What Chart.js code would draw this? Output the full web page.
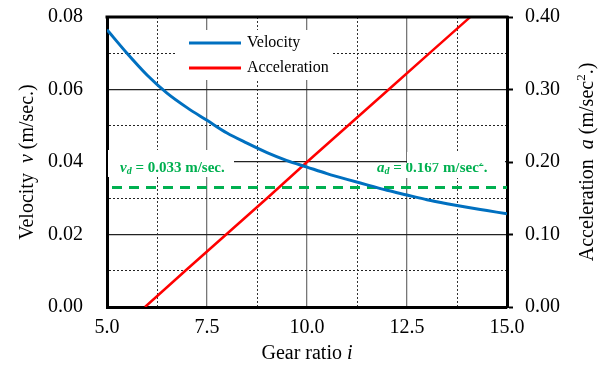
<!DOCTYPE html>
<html>
<head>
<meta charset="utf-8">
<script src="https://cdn.jsdelivr.net/npm/chart.js@4.4.1/dist/chart.umd.min.js"></script>
<style>
  html, body { margin: 0; padding: 0; background: #fff; }
  #wrap { width: 604px; height: 365px; }
</style>
</head>
<body>
<div id="wrap"><canvas id="gearChart" width="604" height="365"></canvas></div>
<script>
// ---- DATA ----
const gearRatios = [5.0, 5.5, 6.0, 6.5, 7.0, 7.5, 8.0, 8.5, 9.0, 9.5, 10.0,
                    10.5, 11.0, 11.5, 12.0, 12.5, 13.0, 13.5, 14.0, 14.5, 15.0];
const velocity = [0.0765, 0.0700, 0.0640, 0.0590, 0.0550, 0.0515, 0.0480, 0.0452, 0.0426, 0.0404, 0.0386,
                  0.0368, 0.0352, 0.0337, 0.0322, 0.0309, 0.0296, 0.0285, 0.0275, 0.0266, 0.0257];
const accelRatios = [5.95, 7.0, 8.0, 9.0, 10.0, 11.0, 12.0, 13.0, 14.0, 15.0];
const acceleration = [0.000, 0.052, 0.101, 0.150, 0.200, 0.249, 0.298, 0.347, 0.396, 0.445];
const designRange = [5.0, 15.0];
const designVelocity = 0.033;
const designAccel = 0.167;

const xTicks = [5.0, 7.5, 10.0, 12.5, 15.0];
const leftTicks = [0.00, 0.02, 0.04, 0.06, 0.08];
const rightTicks = [0.00, 0.10, 0.20, 0.30, 0.40];

// ---- STYLE ----
const SERIF = "'Liberation Serif', 'Times New Roman', serif";
const BLUE = '#0070c0';
const RED = '#ff0000';
const GREEN = '#00b050';

function pickLabel(list, val, digits) {
  const hit = list.find(t => Math.abs(t - val) < 1e-6);
  return hit === undefined ? '' : hit.toFixed(digits);
}

// draw a row of text pieces with their own fonts, centred on x
function drawRuns(ctx, runs, x, y) {
  let total = 0;
  runs.forEach(r => { ctx.font = r.font; total += ctx.measureText(r.text).width; });
  let cx = x - total / 2;
  runs.forEach(r => {
    ctx.font = r.font;
    ctx.fillText(r.text, cx, y + (r.dy || 0));
    cx += ctx.measureText(r.text).width;
  });
}

function drawLeftRuns(ctx, runs, x, y) {
  let cx = x;
  runs.forEach(r => {
    ctx.font = r.font;
    ctx.fillText(r.text, cx, y + (r.dy || 0));
    cx += ctx.measureText(r.text).width;
  });
}

// y axes: no extra room for the half labels at the ends
function fixY(width) {
  return s => {
    s.width = width;
    s.paddingTop = 0;
    s.paddingBottom = 0;
  };
}

// ---- DECORATION PLUGIN ----
const decor = {
  id: 'decor',
  beforeDatasetsDraw(chart) {
    const ctx = chart.ctx;
    const a = chart.chartArea;
    ctx.save();
    ctx.fillStyle = '#fff';
    // legend box
    ctx.fillRect(a.left + 68, a.top + 13, 157, 50);
    // v_d label box
    ctx.fillRect(a.left + 1, a.top + 133, 126, 27);
    // a_d label box
    ctx.fillRect(a.left + 266, a.top + 146, 34, 15);
    ctx.fillRect(a.left + 300, a.top + 135, 98, 26);
    ctx.restore();
  },
  afterDatasetsDraw(chart) {
    const ctx = chart.ctx;
    const a = chart.chartArea;
    ctx.save();
    // legend
    const rows = chart.data.datasets.slice(0, 2);
    rows.forEach((ds, i) => {
      const y = a.top + 26 + i * 25;
      ctx.strokeStyle = ds.borderColor;
      ctx.lineWidth = 3;
      ctx.beginPath();
      ctx.moveTo(a.left + 82, y);
      ctx.lineTo(a.left + 134, y);
      ctx.stroke();
      ctx.fillStyle = '#000';
      ctx.font = '16px ' + SERIF;
      ctx.textBaseline = 'middle';
      ctx.fillText(ds.label, a.left + 140, y);
    });

    // design values
    ctx.textBaseline = 'alphabetic';
    ctx.fillStyle = GREEN;
    const bold = 'bold 15px ' + SERIF;
    const boldIt = 'italic bold 15px ' + SERIF;
    const sub = 'italic bold 10px ' + SERIF;
    drawLeftRuns(ctx, [
      { text: 'v', font: boldIt },
      { text: 'd', font: sub, dy: 2 },
      { text: ' = ' + designVelocity.toFixed(3) + ' m/sec.', font: bold }
    ], a.left + 13, a.top + 155);

    ctx.save();
    ctx.beginPath();
    ctx.rect(a.left + 260, a.top + 146, 140, 20);
    ctx.clip();
    drawLeftRuns(ctx, [
      { text: 'a', font: boldIt },
      { text: 'd', font: sub, dy: 2 },
      { text: ' = ' + designAccel.toFixed(3) + ' m/sec', font: bold },
      { text: '2', font: 'bold 10px ' + SERIF, dy: -6 },
      { text: '.', font: bold }
    ], a.left + 270, a.top + 155);
    ctx.restore();
    ctx.restore();
  },
  afterDraw(chart) {
    const ctx = chart.ctx;
    const a = chart.chartArea;
    ctx.save();
    // top frame line
    ctx.strokeStyle = '#000';
    ctx.lineWidth = 3;
    ctx.beginPath();
    ctx.moveTo(a.left - 1.5, a.top);
    ctx.lineTo(a.right + 1.5, a.top);
    ctx.stroke();

    // axis titles
    ctx.fillStyle = '#000';
    ctx.textBaseline = 'alphabetic';
    const reg = '20px ' + SERIF;
    const it = 'italic 20px ' + SERIF;
    drawRuns(ctx, [
      { text: 'Gear ratio ', font: reg },
      { text: 'i', font: it }
    ], (a.left + a.right) / 2, 359);

    const midY = (a.top + a.bottom) / 2;
    ctx.save();
    ctx.translate(33, midY);
    ctx.rotate(-Math.PI / 2);
    drawRuns(ctx, [
      { text: 'Velocity  ', font: reg },
      { text: 'v', font: it },
      { text: ' (m/sec.)', font: reg }
    ], 0, 0);
    ctx.restore();

    ctx.save();
    ctx.translate(593, midY);
    ctx.rotate(-Math.PI / 2);
    drawRuns(ctx, [
      { text: 'Acceleration  ', font: reg },
      { text: 'a', font: it },
      { text: ' (m/sec', font: reg },
      { text: '2', font: '13px ' + SERIF, dy: -8 },
      { text: '.)', font: reg }
    ], 0, 0);
    ctx.restore();
    ctx.restore();
  }
};

// ---- CHART ----
const tickFont = { family: SERIF, size: 20 };

new Chart(document.getElementById('gearChart'), {
  type: 'line',
  data: {
    datasets: [
      {
        label: 'Velocity',
        data: gearRatios.map((g, i) => ({ x: g, y: velocity[i] })),
        yAxisID: 'y',
        borderColor: BLUE,
        borderWidth: 3,
        pointRadius: 0,
        cubicInterpolationMode: 'monotone'
      },
      {
        label: 'Acceleration',
        data: accelRatios.map((g, i) => ({ x: g, y: acceleration[i] })),
        yAxisID: 'y1',
        borderColor: RED,
        borderWidth: 2.5,
        pointRadius: 0
      },
      {
        label: 'Design',
        data: designRange.map(g => ({ x: g, y: designVelocity })),
        yAxisID: 'y',
        borderColor: GREEN,
        borderWidth: 3,
        borderDash: [10, 7],
        borderDashOffset: 12,
        pointRadius: 0
      }
    ]
  },
  options: {
    responsive: false,
    animation: false,
    layout: { padding: { top: 17, left: 0, right: 0, bottom: 0 } },
    plugins: {
      legend: { display: false },
      tooltip: { enabled: false }
    },
    scales: {
      x: {
        type: 'linear',
        min: 5,
        max: 15,
        afterFit: s => { s.height = 58; s.paddingLeft = 0; s.paddingRight = 0; },
        ticks: {
          stepSize: 1.25,
          autoSkip: false,
          maxRotation: 0,
          padding: 9,
          color: '#000',
          font: tickFont,
          callback: v => pickLabel(xTicks, v, 1)
        },
        grid: {
          drawTicks: false,
          color: c => (c.index % 2 ? '#333' : '#777'),
          lineWidth: c => (c.index % 2 ? 1 : 1.3)
        },
        border: {
          color: '#000',
          width: 3,
          dash: c => (c.index % 2 ? [2, 2] : [])
        }
      },
      y: {
        position: 'left',
        min: 0,
        max: 0.08,
        afterFit: fixY(107),
        ticks: {
          stepSize: 0.01,
          autoSkip: false,
          padding: 24,
          color: '#000',
          font: tickFont,
          callback: v => pickLabel(leftTicks, v, 2)
        },
        grid: {
          drawTicks: false,
          color: '#222',
          lineWidth: c => (c.index % 2 ? 1 : 1.3)
        },
        border: {
          color: '#000',
          width: 3,
          dash: c => (c.index % 2 ? [2, 2] : [])
        }
      },
      y1: {
        position: 'right',
        min: 0,
        max: 0.4,
        afterFit: fixY(97),
        ticks: {
          stepSize: 0.1,
          autoSkip: false,
          padding: 12,
          color: '#000',
          font: tickFont,
          callback: v => pickLabel(rightTicks, v, 2)
        },
        grid: {
          drawOnChartArea: false,
          drawTicks: true,
          tickLength: 6,
          tickWidth: 2,
          tickColor: '#000'
        },
        border: { color: '#000', width: 3 }
      }
    }
  },
  plugins: [decor]
});
</script>
</body>
</html>
